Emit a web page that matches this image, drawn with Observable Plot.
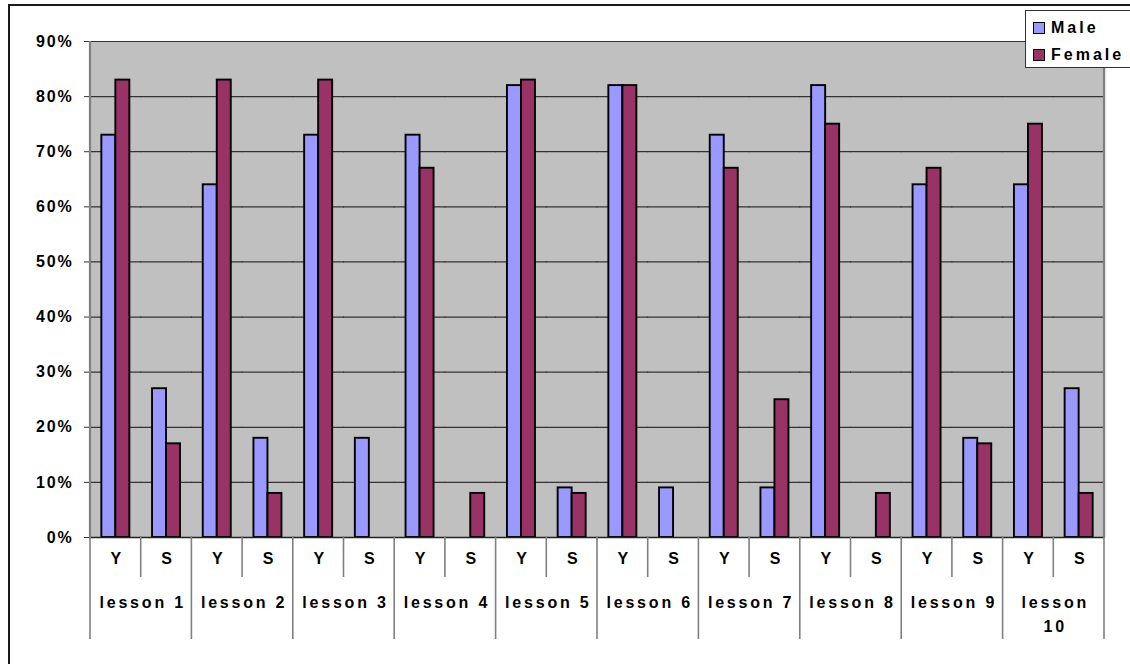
<!DOCTYPE html>
<html>
<head>
<meta charset="utf-8">
<script src="https://cdn.jsdelivr.net/npm/d3@7"></script>
<script src="https://cdn.jsdelivr.net/npm/@observablehq/plot@0.6"></script>
<style>
  body { margin: 0; background: #fff; }
  #wrap { position: relative; width: 1130px; height: 664px; overflow: hidden; font-family: Arial, "Liberation Sans", sans-serif; }
  #border { position: absolute; left: 8px; top: 4px; width: 1300px; height: 800px; border-top: 2px solid #1a1a1a; border-left: 2px solid #1a1a1a; box-sizing: border-box; }
  #chart { position: absolute; left: 0; top: 0; }
  #chart svg text { letter-spacing: 1.8px; }
  #chart svg .lesson text { letter-spacing: 2.8px; }
  #legend { position: absolute; left: 1025px; top: 10px; width: 140px; height: 58px; border: 1px solid #333; background: #fff; box-sizing: border-box; }
  .item { position: absolute; left: 7px; height: 14px; font-weight: bold; font-size: 16px; letter-spacing: 3px; color: #000; white-space: nowrap; }
  .sw { position: absolute; left: 0; top: 0; width: 10px; height: 10px; border: 1.5px solid #000; }
  .lbl { position: absolute; left: 18px; top: -4px; line-height: 20px; }
</style>
</head>
<body>
<div id="wrap">
  <div id="border"></div>
  <div id="chart"></div>
  <div id="legend"></div>
</div>
<script>
const lessons = ["lesson 1", "lesson 2", "lesson 3", "lesson 4", "lesson 5", "lesson 6", "lesson 7", "lesson 8", "lesson 9", "lesson 10"];
const answers = ["Y", "S"];
const series = ["Male", "Female"];
const colors = ["#9999FF", "#993366"];
const maleY   = [73, 64, 73, 73, 82, 82, 73, 82, 64, 64];
const maleS   = [27, 18, 18, 0, 9, 9, 9, 0, 18, 27];
const femaleY = [83, 83, 83, 67, 83, 82, 67, 75, 67, 75];
const femaleS = [17, 8, 0, 8, 8, 0, 25, 8, 17, 8];
const yTicks = [0, 10, 20, 30, 40, 50, 60, 70, 80, 90];

const cats = lessons.flatMap(l => answers.map(a => ({key: l + "|" + a, lesson: l, answer: a})));
const rows = [];
lessons.forEach((l, i) => {
  rows.push({key: l + "|Y", series: "Male", value: maleY[i]});
  rows.push({key: l + "|Y", series: "Female", value: femaleY[i]});
  rows.push({key: l + "|S", series: "Male", value: maleS[i]});
  rows.push({key: l + "|S", series: "Female", value: femaleS[i]});
});

const chart = Plot.plot({
  width: 1130,
  height: 664,
  marginLeft: 90,
  marginRight: 26,
  marginTop: 41,
  marginBottom: 127,
  style: {background: "transparent", fontFamily: "Arial, 'Liberation Sans', sans-serif", fontSize: "16px", fontWeight: "bold", color: "#000", overflow: "visible"},
  fx: {domain: cats.map(d => d.key), padding: 0, round: false, axis: null, label: null},
  x: {domain: series, paddingInner: 0, paddingOuter: 0.81, round: false, axis: null},
  y: {domain: [0, 90], axis: null},
  color: {domain: series, range: colors},
  marks: [
    Plot.frame({fill: "#C0C0C0", stroke: null, insetLeft: -0.8, insetRight: -0.8}),
    Plot.ruleY(yTicks, {stroke: "#333", strokeWidth: 1.2, insetLeft: -0.5, insetRight: -0.5}),
    Plot.axisY({ticks: yTicks, tickFormat: d => d + "%", tickSize: 6, tickPadding: 11, label: null, stroke: "#333", fontSize: 16, fontWeight: "bold", fill: "#000"}),
    Plot.barY(rows, {fx: "key", x: "series", y: "value", fill: "series", stroke: "#000", strokeWidth: 1.9}),
    Plot.ruleY([0], {stroke: "#222", strokeWidth: 1.4, insetLeft: -0.5, insetRight: -0.5}),
    Plot.text(cats, {fx: "key", text: "answer", frameAnchor: "bottom", dy: 26, dx: 1, fontSize: 16, fontWeight: "bold", fill: "#000"}),
    Plot.text(cats.filter(d => d.answer === "Y"), {
      fx: "key",
      text: d => d.lesson.length > 8 ? d.lesson.replace(" ", "\n") : d.lesson,
      frameAnchor: "bottom-right", textAnchor: "middle", lineAnchor: "top", lineHeight: 1.5,
      dy: 53, dx: 1.5, fontSize: 16, fontWeight: "bold", fill: "#000", className: "lesson"
    })
  ]
});
document.getElementById("chart").appendChild(chart);

// category axis separators below the plot and side borders, positioned with Plot's fx and y scales
const fxd = chart.scale("fx");
const fx = d3.scaleBand(fxd.domain, fxd.range)
  .paddingInner(fxd.paddingInner || 0).paddingOuter(fxd.paddingOuter || 0).align(fxd.align ?? 0.5);
const ys = chart.scale("y");
const y0 = ys.apply(0), yTop = ys.apply(90);
const sep = d3.select(chart).append("g").attr("stroke", "#808080");
cats.forEach(c => {
  const x = fx(c.key);
  sep.append("line").attr("x1", x).attr("x2", x).attr("y1", y0).attr("y2", y0 + (c.answer === "Y" ? 102 : 40)).attr("stroke-width", 1.6);
});
const xEnd = fx(cats[cats.length - 1].key) + fx.bandwidth();
const xStart = fx(cats[0].key);
sep.append("line").attr("x1", xEnd).attr("x2", xEnd).attr("y1", y0).attr("y2", y0 + 102).attr("stroke-width", 1.6);
sep.append("line").attr("x1", xStart).attr("x2", xStart).attr("y1", yTop).attr("y2", y0).attr("stroke-width", 2.2);
sep.append("line").attr("x1", xEnd).attr("x2", xEnd).attr("y1", yTop).attr("y2", y0).attr("stroke-width", 2.2);

const legend = document.getElementById("legend");
series.forEach((s, i) => {
  const item = document.createElement("div");
  item.className = "item";
  item.style.top = (i === 0 ? 11 : 38) + "px";
  item.innerHTML = `<div class="sw" style="background:${colors[i]}"></div><div class="lbl">${s}</div>`;
  legend.appendChild(item);
});
</script>
</body>
</html>
